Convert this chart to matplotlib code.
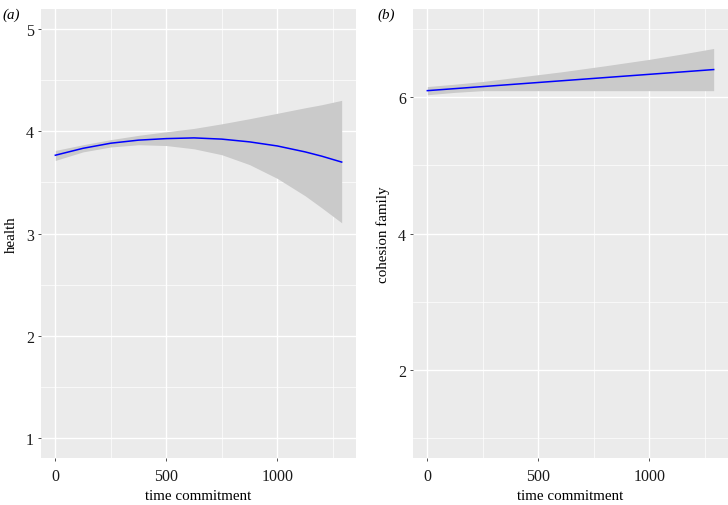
import matplotlib
matplotlib.use("Agg")
import matplotlib.pyplot as plt

# ---- data -----------------------------------------------------------------
# panel (a): health vs time commitment (smooth fit + CI band)
health_x = [0, 125, 250, 375, 500, 625, 750, 875, 1000, 1125, 1200, 1290]
health_fit = [3.767, 3.835, 3.885, 3.915, 3.930, 3.937, 3.925, 3.898, 3.858,
              3.800, 3.758, 3.700]
health_hi = [3.814, 3.870, 3.920, 3.962, 3.997, 4.030, 4.075, 4.125, 4.178,
             4.232, 4.262, 4.305]
health_lo = [3.716, 3.800, 3.848, 3.870, 3.862, 3.830, 3.772, 3.675, 3.540,
             3.370, 3.252, 3.105]

# panel (b): cohesion family vs time commitment
coh_x = [0, 125, 250, 400, 600, 800, 1000, 1150, 1290]
coh_fit = [6.10, 6.130, 6.160, 6.196, 6.244, 6.292, 6.340, 6.376, 6.410]
coh_hi = [6.16, 6.195, 6.235, 6.295, 6.375, 6.465, 6.560, 6.640, 6.720]
coh_lo = [6.04, 6.075, 6.100, 6.100, 6.100, 6.100, 6.100, 6.100, 6.100]

x_ticks = [0, 500, 1000]
x_minor = [250, 750, 1250]

plt.rcParams["font.family"] = ["Liberation Serif", "DejaVu Serif"]

BG = "#EBEBEB"
BAND = "#CACACA"
FS = 10.8
TICK_FS = 11.5


def style_axes(ax, ylim, yticks, yminor):
    data_x = (0, 1290)
    rng = data_x[1] - data_x[0]
    ax.set_xlim(data_x[0] - 0.05 * rng, data_x[1] + 0.05 * rng)
    yr = ylim[1] - ylim[0]
    ax.set_ylim(ylim[0] - 0.05 * yr, ylim[1] + 0.05 * yr)
    ax.set_facecolor(BG)
    for s in ax.spines.values():
        s.set_visible(False)
    ax.set_xticks(x_ticks)
    ax.set_xticks(x_minor, minor=True)
    ax.set_yticks(yticks)
    ax.set_yticks(yminor, minor=True)
    ax.grid(True, which="major", color="white", lw=1.0, zorder=0)
    ax.grid(True, which="minor", color="white", lw=0.5, zorder=0)
    ax.set_axisbelow(True)
    ax.tick_params(which="major", length=2.5, width=0.6, color="#333333",
                   labelsize=TICK_FS, labelcolor="#1a1a1a")
    ax.tick_params(axis="x", pad=4.5)
    ax.tick_params(axis="y", pad=2.5)
    ax.tick_params(which="minor", length=0)
    ax.set_xlabel("time commitment", fontsize=FS, labelpad=3.5)


fig = plt.figure(figsize=(7.28, 5.06), dpi=100)
ax1 = fig.add_axes([0.0563, 0.0929, 0.4327, 0.8873])
ax2 = fig.add_axes([0.5673, 0.0929, 0.4327, 0.8873])

style_axes(ax1, (1, 5), [1, 2, 3, 4, 5], [1.5, 2.5, 3.5, 4.5])
ax1.fill_between(health_x, health_lo, health_hi, color=BAND, lw=0, zorder=2)
ax1.plot(health_x, health_fit, color="#0000FF", lw=1.1, zorder=3)
ax1.set_ylabel("health", fontsize=FS, labelpad=6)

style_axes(ax2, (1, 7), [2, 4, 6], [1, 3, 5, 7])
ax2.fill_between(coh_x, coh_lo, coh_hi, color=BAND, lw=0, zorder=2)
ax2.plot(coh_x, coh_fit, color="#0000FF", lw=1.1, zorder=3)
ax2.set_ylabel("cohesion family", fontsize=FS, labelpad=6)

fig.text(0.004, 0.984, "(a)", fontsize=FS, style="italic", va="top")
fig.text(0.519, 0.984, "(b)", fontsize=FS, style="italic", va="top")

fig.savefig("out.png", dpi=100)
